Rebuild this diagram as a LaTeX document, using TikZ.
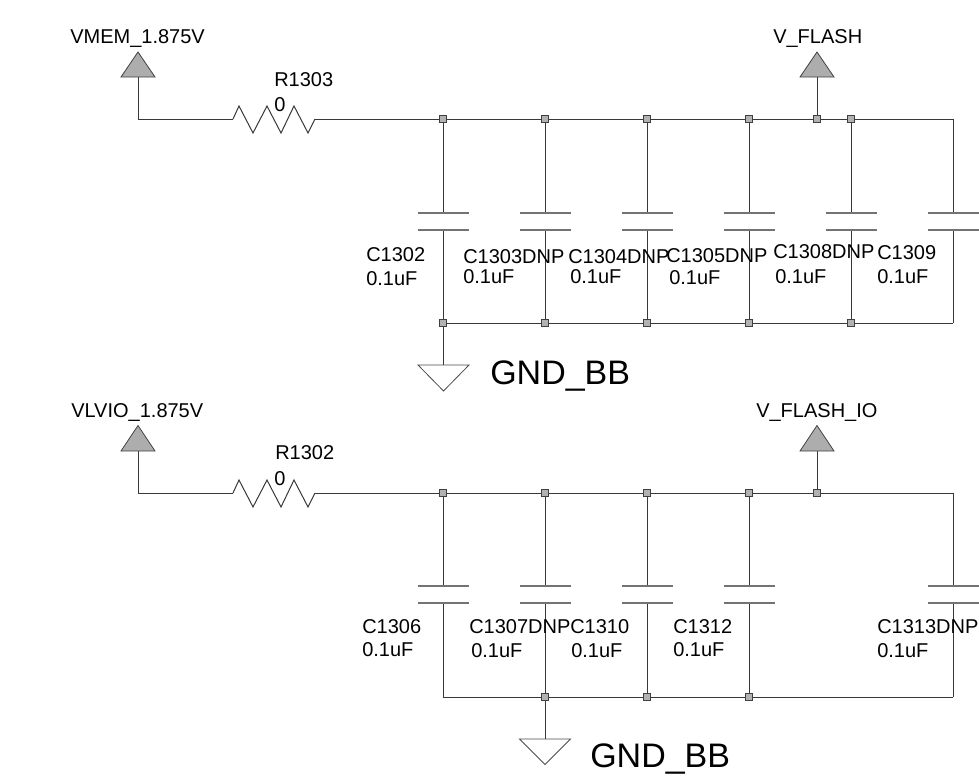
\documentclass[tikz,border=0pt]{standalone}
\usepackage{fontspec}
\setmainfont{Liberation Sans}
\tikzset{
  x=0.75pt,y=-0.75pt,
  wire/.style={draw=black!78,line width=0.75pt},
  plate/.style={draw=black!55,line width=0.85pt},
  junction/.style={draw=black!75,fill=black!30,line width=0.5pt,minimum size=5pt,inner sep=0pt,rectangle},
  powertri/.style={draw=black!75,fill=black!32,line width=0.6pt,line join=miter},
  gndtri/.style={draw=black!70,fill=white,line width=0.6pt},
  lbl/.style={inner sep=0pt,anchor=base west,font=\fontsize{15}{15}\selectfont},
  gndlbl/.style={inner sep=0pt,anchor=base west,font=\fontsize{25.5}{25.5}\selectfont},
}
% #1 name, #2 x, #3 top-rail node, #4 bottom-rail node, #5 y upper plate
\newcommand{\capsym}[5]{%
  \coordinate (#1a) at (#2,#5);
  \coordinate (#1b) at (#2,#5+17);
  \draw[wire] (#3) -- (#1a);
  \draw[wire] (#1b) -- (#4);
  \draw[plate] (#2-25.5,#5) -- (#2+25.5,#5);
  \draw[plate] (#2-25.5,#5+17) -- (#2+25.5,#5+17);
}
% #1 name, #2 x, #3 y of rail
\newcommand{\res}[3]{%
  \coordinate (#1l) at (#2,#3);
  \coordinate (#1r) at (#2+82,#3);
  \draw[wire,line join=miter] (#1l) -- ++(6,-13) -- ++(14,27) -- ++(14,-27) -- ++(14,27) -- ++(13,-27) -- ++(14,27) -- (#1r);
}
\begin{document}
\begin{tikzpicture}
\useasboundingbox (0,0) rectangle (979,782);
% ---------- upper block ----------
\foreach \n/\x in {tA/443,tB/545,tC/647,tD/749,tF/817,tE/851}{\node[junction] (\n) at (\x,119) {};}
\foreach \n/\x in {bA/443,bB/545,bC/647,bD/749,bE/851}{\node[junction] (\n) at (\x,323) {};}
\coordinate (tG) at (953,119);
\coordinate (bG) at (953,323);
\res{ra}{233}{119}
\coordinate (pa) at (138,119);
\coordinate (pat) at (138,77);
\coordinate (pft) at (817,77);
\draw[wire] (pat) -- (pa) -- (ral);
\draw[wire] (rar) -- (tA) -- (tB) -- (tC) -- (tD) -- (tF) -- (tE) -- (tG);
\draw[wire] (bA) -- (bB) -- (bC) -- (bD) -- (bE) -- (bG);
\capsym{ca}{443}{tA}{bA}{213}
\capsym{cb}{545}{tB}{bB}{213}
\capsym{cc}{647}{tC}{bC}{213}
\capsym{cd}{749}{tD}{bD}{213}
\capsym{ce}{851}{tE}{bE}{213}
\capsym{cf}{953}{tG}{bG}{213}
\draw[wire] (pft) -- (tF);
\draw[powertri] (121,77) -- (138,52) -- (155,77) -- cycle;
\draw[powertri] (800,77) -- (817,52) -- (834,77) -- cycle;
\coordinate (ga) at (443,365);
\draw[wire] (bA) -- (ga);
\draw[gndtri] (418,365) -- (469,365) -- (443.5,391) -- cycle;
\node[lbl] (l1) at (70,43.5) {VMEM\_1.875V};
\node[lbl] (l2) at (773,43.5) {V\_FLASH};
\node[lbl] (l3) at (274,86) {R1303};
\node[lbl] (l4) at (274,111.5) {0};
\node[lbl] (c1) at (366,261) {C1302};
\node[lbl] (v1) at (366,285) {0.1uF};
\node[lbl] (c2) at (463,263) {C1303DNP};
\node[lbl] (v2) at (463,283) {0.1uF};
\node[lbl] (c3) at (568,263) {C1304DNP};
\node[lbl] (v3) at (570,283) {0.1uF};
\node[lbl] (c4) at (666,262) {C1305DNP};
\node[lbl] (v4) at (669,284) {0.1uF};
\node[lbl] (c5) at (773,258) {C1308DNP};
\node[lbl] (v5) at (775,283) {0.1uF};
\node[lbl] (c6) at (877,259) {C1309};
\node[lbl] (v6) at (877,283) {0.1uF};
\node[gndlbl] (g1) at (490,384) {GND\_BB};
% ---------- lower block ----------
\foreach \n/\x in {uA/443,uB/545,uC/647,uD/749,uF/817}{\node[junction] (\n) at (\x,493) {};}
\foreach \n/\x in {vB/545,vC/647,vD/749}{\node[junction] (\n) at (\x,697) {};}
\coordinate (uG) at (953,493);
\coordinate (vG) at (953,697);
\coordinate (vA) at (443,697);
\res{rb}{233}{493}
\coordinate (pb) at (138,493);
\coordinate (pbt) at (138,451);
\coordinate (pgt) at (817,451);
\draw[wire] (pbt) -- (pb) -- (rbl);
\draw[wire] (rbr) -- (uA) -- (uB) -- (uC) -- (uD) -- (uF) -- (uG);
\draw[wire] (vA) -- (vB) -- (vC) -- (vD) -- (vG);
\capsym{da}{443}{uA}{vA}{586}
\capsym{db}{545}{uB}{vB}{586}
\capsym{dc}{647}{uC}{vC}{586}
\capsym{dd}{749}{uD}{vD}{586}
\capsym{dg}{953}{uG}{vG}{586}
\draw[wire] (pgt) -- (uF);
\draw[powertri] (121,451) -- (138,425.5) -- (155,451) -- cycle;
\draw[powertri] (800,451) -- (817,425.5) -- (834,451) -- cycle;
\coordinate (gb) at (545,739);
\draw[wire] (vB) -- (gb);
\draw[gndtri] (519.5,739) -- (570.5,739) -- (545,764.5) -- cycle;
\node[lbl] (m1) at (71,417) {VLVIO\_1.875V};
\node[lbl] (m2) at (756,417) {V\_FLASH\_IO};
\node[lbl] (m3) at (275,459.5) {R1302};
\node[lbl] (m4) at (274,485) {0};
\node[lbl] (e1) at (362,633) {C1306};
\node[lbl] (w1) at (362,656) {0.1uF};
\node[lbl] (e2) at (469,633) {C1307DNP};
\node[lbl] (w2) at (471,657) {0.1uF};
\node[lbl] (e3) at (570,633) {C1310};
\node[lbl] (w3) at (571,657) {0.1uF};
\node[lbl] (e4) at (673,633) {C1312};
\node[lbl] (w4) at (673,656) {0.1uF};
\node[lbl] (e5) at (877,633) {C1313DNP};
\node[lbl] (w5) at (877,657) {0.1uF};
\node[gndlbl] (g2) at (590,767) {GND\_BB};
\end{tikzpicture}
\end{document}
